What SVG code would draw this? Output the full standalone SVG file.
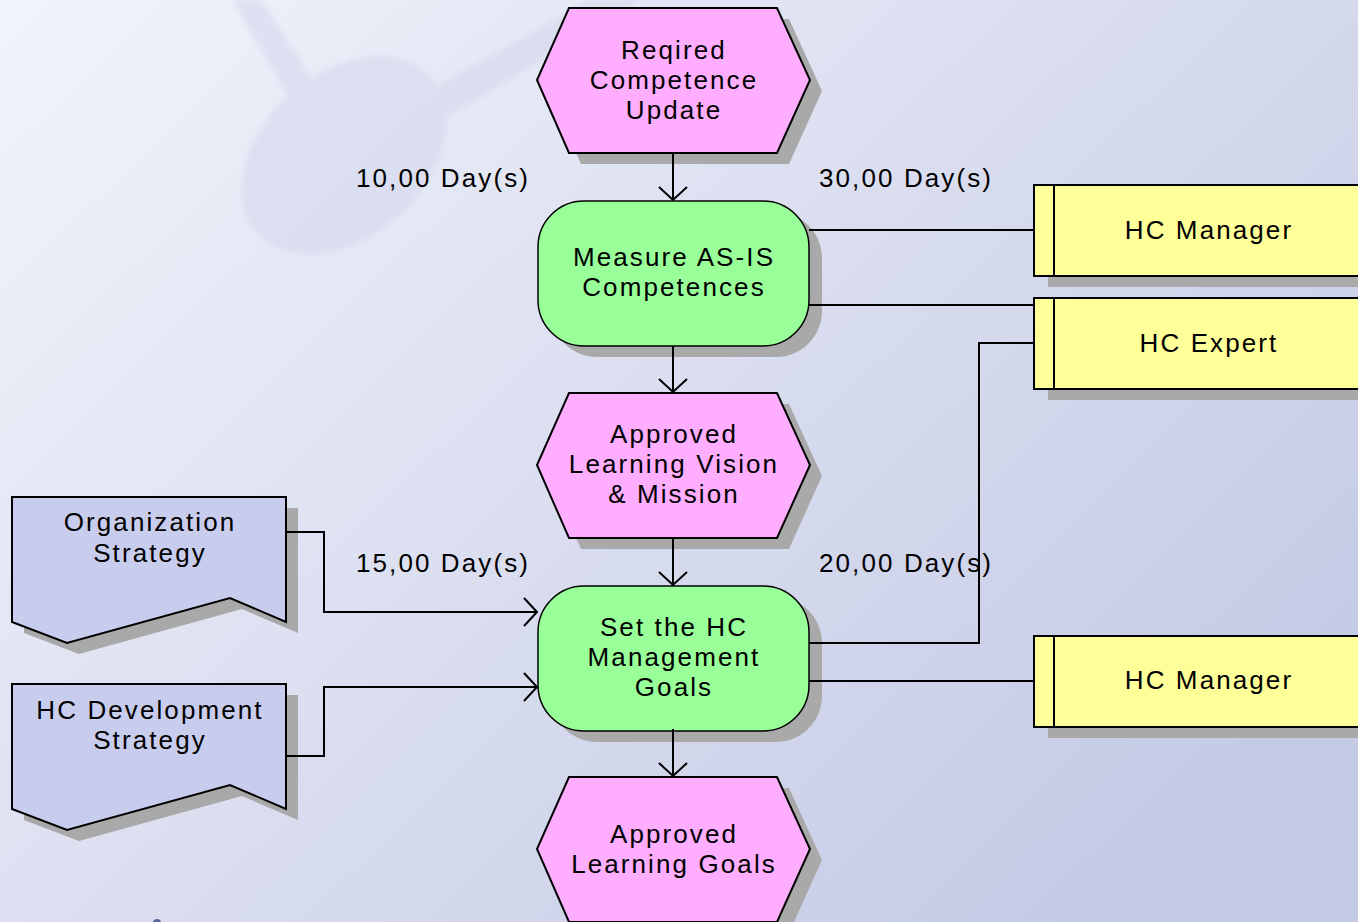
<svg xmlns="http://www.w3.org/2000/svg" width="1358" height="922" viewBox="0 0 1358 922">
  <defs>
    <linearGradient id="bg" x1="0" y1="0" x2="1" y2="0.7">
      <stop offset="0" stop-color="#f2f4fb"/>
      <stop offset="0.55" stop-color="#d9ddef"/>
      <stop offset="1" stop-color="#c5cbe5"/>
    </linearGradient>
    <filter id="soft" x="-20%" y="-20%" width="140%" height="140%">
      <feGaussianBlur stdDeviation="2.5"/>
    </filter>
    <marker id="arrow" viewBox="-15 -16 17 32" markerWidth="17" markerHeight="32" refX="0" refY="0" markerUnits="userSpaceOnUse" orient="auto">
      <path d="M-13,-14 L0,0 L-13,14" fill="none" stroke="#000" stroke-width="2"/>
    </marker>
    <polygon id="hex" points="32,0 240,0 273,72 240,145 32,145 0,72"/>
    <rect id="func" x="0" y="0" width="271" height="145" rx="46" ry="46"/>
    <path id="doc" d="M0,0 H274 V125 L218,101 L55,146 L0,125 Z"/>
    <rect id="role" x="0" y="0" width="345" height="91"/>
  </defs>
  <style>
    .shadow { fill: #a9a9a9; stroke: none; }
    .event { fill: #ffaeff; stroke: #000; stroke-width: 2; }
    .function { fill: #99ff99; stroke: #000; stroke-width: 1.5; }
    .info { fill: #c9cded; stroke: #000; stroke-width: 2; }
    .org { fill: #ffff99; stroke: #000; stroke-width: 2; }
    .lbl { font-family: "Liberation Sans", Arial, sans-serif; font-size: 26px; letter-spacing: 2.1px; fill: #000; }
    .c { text-anchor: middle; }
    .conn { fill: none; stroke: #000; stroke-width: 2; }
  </style>

  <!-- background -->
  <rect x="0" y="0" width="1358" height="922" fill="url(#bg)"/>
  <g id="backdrop" fill="#d3d7ec" filter="url(#soft)" opacity="0.55">
    <path d="M232,0 L262,0 L318,88 L290,100 Z"/>
    <path d="M410,100 L590,0 L640,0 L430,128 Z"/>
    <ellipse cx="344" cy="155" rx="117" ry="82" transform="rotate(-42 344 155)"/>
  </g>
  <circle cx="157" cy="923" r="4" fill="#3a4a8a" opacity="0.8"/>

  <!-- time labels -->
  <g id="times" class="lbl">
    <text x="530" y="187" text-anchor="end">10,00 Day(s)</text>
    <text x="819" y="187">30,00 Day(s)</text>
    <text x="530" y="572" text-anchor="end">15,00 Day(s)</text>
    <text x="819" y="572">20,00 Day(s)</text>
  </g>

  <!-- events -->
  <g id="ev-required-competence-update">
    <use href="#hex" class="shadow" transform="translate(549,19)"/>
    <use href="#hex" class="event" transform="translate(537,8)"/>
    <text class="lbl c" x="674" y="59">Reqired</text>
    <text class="lbl c" x="674" y="89">Competence</text>
    <text class="lbl c" x="674" y="119">Update</text>
  </g>
  <g id="ev-approved-vision-mission">
    <use href="#hex" class="shadow" transform="translate(549,404)"/>
    <use href="#hex" class="event" transform="translate(537,393)"/>
    <text class="lbl c" x="674" y="443">Approved</text>
    <text class="lbl c" x="674" y="473">Learning Vision</text>
    <text class="lbl c" x="674" y="503">&amp; Mission</text>
  </g>
  <g id="ev-approved-learning-goals">
    <use href="#hex" class="shadow" transform="translate(549,788)"/>
    <use href="#hex" class="event" transform="translate(537,777)"/>
    <text class="lbl c" x="674" y="843">Approved</text>
    <text class="lbl c" x="674" y="873">Learning Goals</text>
  </g>

  <!-- functions -->
  <g id="fn-measure-as-is">
    <use href="#func" class="shadow" transform="translate(551,212)"/>
    <use href="#func" class="function" transform="translate(538,201)"/>
    <text class="lbl c" x="674" y="266">Measure AS-IS</text>
    <text class="lbl c" x="674" y="296">Competences</text>
  </g>
  <g id="fn-set-hc-goals">
    <use href="#func" class="shadow" transform="translate(551,597)"/>
    <use href="#func" class="function" transform="translate(538,586)"/>
    <text class="lbl c" x="674" y="636">Set the HC</text>
    <text class="lbl c" x="674" y="666">Management</text>
    <text class="lbl c" x="674" y="696">Goals</text>
  </g>

  <!-- information carriers -->
  <g id="doc-organization-strategy">
    <use href="#doc" class="shadow" transform="translate(24,508)"/>
    <use href="#doc" class="info" transform="translate(12,497)"/>
    <text class="lbl c" x="150" y="531">Organization</text>
    <text class="lbl c" x="150" y="562">Strategy</text>
  </g>
  <g id="doc-hc-development-strategy">
    <use href="#doc" class="shadow" transform="translate(24,695)"/>
    <use href="#doc" class="info" transform="translate(12,684)"/>
    <text class="lbl c" x="150" y="719">HC Development</text>
    <text class="lbl c" x="150" y="749">Strategy</text>
  </g>

  <!-- organisational roles -->
  <g id="role-hc-manager-1">
    <use href="#role" class="shadow" transform="translate(1048,196)"/>
    <use href="#role" class="org" transform="translate(1034,185)"/>
    <line x1="1054" y1="185" x2="1054" y2="276" stroke="#000" stroke-width="2"/>
    <text class="lbl c" x="1209" y="239">HC Manager</text>
  </g>
  <g id="role-hc-expert">
    <use href="#role" class="shadow" transform="translate(1048,309)"/>
    <use href="#role" class="org" transform="translate(1034,298)"/>
    <line x1="1054" y1="298" x2="1054" y2="389" stroke="#000" stroke-width="2"/>
    <text class="lbl c" x="1209" y="352">HC Expert</text>
  </g>
  <g id="role-hc-manager-2">
    <use href="#role" class="shadow" transform="translate(1048,647)"/>
    <use href="#role" class="org" transform="translate(1034,636)"/>
    <line x1="1054" y1="636" x2="1054" y2="727" stroke="#000" stroke-width="2"/>
    <text class="lbl c" x="1209" y="689">HC Manager</text>
  </g>

  <!-- connectors, drawn above the drop shadows -->
  <g id="connectors">
    <path class="conn" d="M673,153 V200" marker-end="url(#arrow)"/>
    <path class="conn" d="M673,346 V392" marker-end="url(#arrow)"/>
    <path class="conn" d="M673,538 V585" marker-end="url(#arrow)"/>
    <path class="conn" d="M673,729 V776" marker-end="url(#arrow)"/>
    <path class="conn" d="M286,532 H324 V612 H537" marker-end="url(#arrow)"/>
    <path class="conn" d="M286,756 H324 V687 H537" marker-end="url(#arrow)"/>
    <path class="conn" d="M809,230 H1034"/>
    <path class="conn" d="M809,305 H1034"/>
    <path class="conn" d="M1034,343 H979 V643 H809"/>
    <path class="conn" d="M809,681 H1034"/>
  </g>
</svg>
